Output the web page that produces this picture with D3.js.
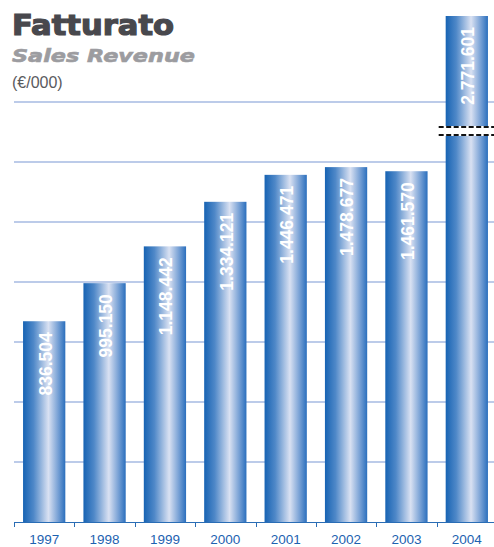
<!DOCTYPE html>
<html>
<head>
<meta charset="utf-8">
<script src="https://cdn.jsdelivr.net/npm/d3@7/dist/d3.min.js"></script>
<style>
  html, body { margin: 0; padding: 0; background: #fff; }
  svg { display: block; }
</style>
</head>
<body>
<svg id="chart" width="494" height="547"></svg>
<script>
// Revenue by year, thousands of euro
const years = ["1997", "1998", "1999", "2000", "2001", "2002", "2003", "2004"];
const revenue = [836.504, 995.150, 1148.442, 1334.121, 1446.471, 1478.677, 1461.570, 2771.601];
const valueLabels = ["836.504", "995.150", "1.148.442", "1.334.121", "1.446.471", "1.478.677", "1.461.570", "2.771.601"];
const gridValues = [250, 500, 750, 1000, 1250, 1500, 1750];
const breakValue = 1625; // where the axis is interrupted

const svg = d3.select("#chart");
const left = 14, right = 497, base = 522;

const x = d3.scaleBand().domain(years).range([left, right]).paddingInner(0.3).paddingOuter(0.15);
// broken value axis: linear up to 1750, compressed above it
const y = d3.scaleLinear().domain([0, 1750, 2771.601]).range([base, 102, 16]);

// horizontal gradient for the cylinders
const defs = svg.append("defs");
const grad = defs.append("linearGradient").attr("id", "barGrad").attr("x1", "0").attr("x2", "1").attr("y1", "0").attr("y2", "0");
[["0%", "#1763b3"], ["25%", "#4f88c8"], ["60%", "#d9e1f2"], ["82%", "#7ba3d6"], ["100%", "#2b6fbd"]]
  .forEach(([o, c]) => grad.append("stop").attr("offset", o).attr("stop-color", c));

// titles
svg.append("text").attr("x", 12).attr("y", 35)
  .attr("font-family", "DejaVu Sans").attr("font-weight", "bold").attr("font-size", 28)
  .attr("fill", "#48484d").attr("textLength", 162).attr("lengthAdjust", "spacingAndGlyphs")
  .style("stroke", "#48484d").style("stroke-width", 1.2)
  .text("Fatturato");
svg.append("text").attr("x", 12).attr("y", 62)
  .attr("font-family", "DejaVu Sans").attr("font-weight", "bold").attr("font-style", "italic").attr("font-size", 17)
  .attr("fill", "#9c9ca0").attr("textLength", 183).attr("lengthAdjust", "spacingAndGlyphs")
  .style("stroke", "#9c9ca0").style("stroke-width", 0.6)
  .text("Sales Revenue");
svg.append("text").attr("x", 12).attr("y", 88)
  .attr("font-family", "Liberation Sans, Arial, sans-serif").attr("font-size", 16)
  .attr("fill", "#5a5a5e")
  .text("(€/000)");

// grid lines
svg.append("g").selectAll("line").data(gridValues).join("line")
  .attr("x1", left).attr("x2", 494)
  .attr("y1", d => y(d)).attr("y2", d => y(d))
  .attr("stroke", "#bccbe9").attr("stroke-width", 2);

// bars
svg.append("g").selectAll("rect").data(revenue).join("rect")
  .attr("x", (d, i) => x(years[i]))
  .attr("width", x.bandwidth())
  .attr("y", d => y(d))
  .attr("height", d => base - y(d))
  .attr("fill", "url(#barGrad)");

// axis break on the tallest bar
const maxIdx = revenue.indexOf(d3.max(revenue));
const by = y(breakValue) - 1;
const brk = svg.append("g");
brk.append("rect").attr("x", x(years[maxIdx]) - 2).attr("width", x.bandwidth() + 4)
  .attr("y", by - 5).attr("height", 10).attr("fill", "#fff");
[by - 4, by + 4].forEach(yy => brk.append("line")
  .attr("x1", x(years[maxIdx]) - 7).attr("x2", 494).attr("y1", yy).attr("y2", yy)
  .attr("stroke", "#111").attr("stroke-width", 2).attr("stroke-dasharray", "5,2.5"));

// value labels inside bars
svg.append("g").selectAll("text").data(revenue).join("text")
  .attr("transform", (d, i) => `translate(${x(years[i]) + x.bandwidth() / 2 + 1},${y(d) + 11}) rotate(-90)`)
  .attr("text-anchor", "end").attr("dy", "0.36em")
  .attr("font-family", "Liberation Sans, Arial, sans-serif").attr("font-weight", "bold").attr("font-size", 17.5)
  .attr("fill", "#fff")
  .text((d, i) => valueLabels[i]);

// category axis
const axis = svg.append("g");
axis.append("line").attr("x1", left).attr("x2", 494).attr("y1", base + 0.5).attr("y2", base + 0.5)
  .attr("stroke", "#2a6db5").attr("stroke-width", 1);
const step = x.step();
const tickXs = years.map((d, i) => left + i * step);
axis.selectAll("line.tick").data(tickXs).join("line").attr("class", "tick")
  .attr("x1", d => Math.round(d) + 0.5).attr("x2", d => Math.round(d) + 0.5)
  .attr("y1", base).attr("y2", base + 5)
  .attr("stroke", "#2a6db5").attr("stroke-width", 1);
axis.selectAll("text").data(years).join("text")
  .attr("x", d => x(d) + x.bandwidth() / 2).attr("y", 544)
  .attr("text-anchor", "middle")
  .attr("font-family", "Liberation Sans, Arial, sans-serif").attr("font-size", 13.5)
  .attr("fill", "#1d62b0")
  .text(d => d);
</script>
</body>
</html>
